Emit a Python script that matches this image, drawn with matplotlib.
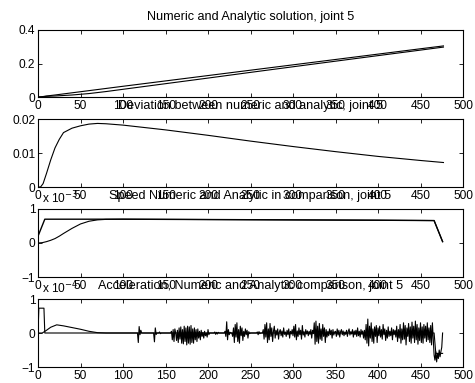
import numpy as np
import matplotlib
matplotlib.use("Agg")
import matplotlib.pyplot as plt

plt.rcParams["font.family"] = ["Liberation Sans", "DejaVu Sans"]
plt.rcParams["font.size"] = 8.6
plt.rcParams["axes.titlesize"] = 9.1

# --- position (panel 1) ---
pos_x = [0, 5, 10, 20, 40, 60, 80, 100, 150, 200, 250, 300, 350, 400, 450, 477]
pos_numeric = [0, 0.002, 0.006, 0.012, 0.025, 0.038, 0.051, 0.064, 0.096, 0.128,
               0.160, 0.192, 0.224, 0.256, 0.288, 0.305]
pos_analytic = [0, 0.0015, 0.004, 0.006, 0.012, 0.0205, 0.0325, 0.046, 0.0795, 0.113,
                0.147, 0.1805, 0.2138, 0.247, 0.280, 0.298]

# --- deviation (panel 2) ---
dev_x = [0, 3, 6, 10, 15, 20, 25, 30, 40, 50, 60, 70, 80, 100, 150, 200, 250, 300,
         350, 400, 450, 477]
dev_y = [0, 0, 0.001, 0.004, 0.008, 0.0115, 0.014, 0.016, 0.0173, 0.0180, 0.0185,
         0.0187, 0.0186, 0.0182, 0.0168, 0.0152, 0.0135, 0.0119, 0.0104, 0.0090,
         0.0078, 0.0072]

# --- speed, in units of 1e-3 (panel 3) ---
spd_num_x = [0, 8, 100, 200, 300, 400, 466, 476]
spd_num_y = [0.20, 0.70, 0.70, 0.69, 0.68, 0.67, 0.66, 0.04]
spd_ana_x = [0, 5, 10, 15, 20, 25, 30, 40, 50, 60, 70, 80, 100, 200, 300, 400, 466, 476]
spd_ana_y = [0, 0.01, 0.04, 0.08, 0.13, 0.20, 0.28, 0.43, 0.56, 0.64, 0.68, 0.695,
             0.70, 0.69, 0.68, 0.67, 0.66, 0.04]

# --- acceleration, in units of 1e-4 (panel 4) ---
acc_ana_x = [0, 5, 10, 15, 22, 30, 40, 50, 60, 70, 80, 466, 468, 476]
acc_ana_y = [0, 0, 0.08, 0.17, 0.24, 0.21, 0.16, 0.11, 0.05, 0.01, 0, 0, -0.6, -0.6]
acc_start = [0.0, 0.73, 0.73, 0.73, 0.73, 0.73, 0.73, 0.73, 0.0]   # samples 0..8
acc_bursts = [
    (118, [-0.28, 0.19, -0.05, 0.08]),
    (137, [-0.26, 0.15, -0.04]),
    (143, [0.03, -0.02]),
    (157, [0.05, -0.20, 0.10, -0.25, 0.12, 0, -0.22, 0.08, -0.28, 0.15, -0.18, 0.18,
           -0.30, 0.10, -0.32, 0.20, -0.25, 0.15, -0.35, 0.20, -0.30, 0.18, -0.33, 0.22,
           -0.28, 0.12, -0.30, 0.15, -0.20, 0.10, -0.25, 0.12, -0.15, 0.05, -0.20, 0.08,
           -0.10, 0.02, -0.15, 0.05, -0.08, 0, -0.12, 0.10, -0.05]),
    (208, [0.03, -0.04, 0.02, -0.03, 0.02]),
    (220, [0.05, -0.10, 0.33, -0.20, 0.10, -0.05, 0.02]),
    (229, [-0.10, 0.15, -0.28, 0.25, -0.12, 0.30, -0.25, 0.10, -0.30, 0.20, -0.08,
           0.15, -0.22, 0.05, -0.10, 0.12, -0.05, 0.08, -0.15, 0.04, -0.02]),
    (258, [0.03, -0.05, 0.04, -0.02]),
    (265, [0.10, -0.18, 0.25, -0.12, 0.30, -0.28, 0.12, -0.20, 0.28, -0.10, 0.15,
           -0.25, 0.05, 0.20, -0.15, 0.08, -0.06, 0.12, -0.18, 0.04, 0.10, -0.08,
           0.06, -0.12, 0.15, -0.04, 0.03, -0.10, 0.08, -0.05, 0.12, -0.15, 0.05,
           -0.03, 0.10, -0.08, 0.20, -0.12, 0.25, -0.20, 0.06, -0.10, 0.15, -0.05,
           0.08, -0.18, 0.22, -0.06, 0.04, -0.12, 0.10, -0.03, 0.06, -0.08, 0.05,
           -0.04, 0.10, -0.15, 0.08, -0.02, 0.30, -0.33, 0.35, -0.25, 0.20, -0.30,
           0.28, -0.18, 0.12, -0.22, 0.25, -0.10, 0.15, -0.28, 0.10, -0.12, 0.05,
           -0.08, 0.12, -0.05, 0.08, -0.15, 0.10, -0.06, 0.03]),
    (350, [0.05, -0.10, 0.12, -0.06, 0.08, -0.12, 0.04, 0.10, -0.05, 0.06, -0.08,
           0.03, -0.04, 0.08, -0.10, 0.05, 0.12, -0.06, 0.04, -0.03, 0.10, -0.12,
           0.06, -0.05, 0.08, -0.10, 0.15, -0.08, 0.05, -0.12, 0.10, -0.04, 0.06,
           -0.15, 0.08]),
    (385, [-0.20, 0.25, -0.30, 0.41, -0.38, 0.20, -0.15, 0.30, -0.25, 0.12, -0.30,
           0.18, -0.10, 0.22, -0.28, 0.15, -0.08, 0.20, -0.12, 0.10, -0.18, 0.25,
           -0.05, 0.12, -0.22, 0.08, -0.15, 0.18, -0.10, 0.05, -0.08, 0.15, -0.20,
           0.10, -0.05, 0.08, -0.12, 0.20, -0.25, 0.10, -0.15, 0.25, -0.30, 0.12,
           -0.20, 0.30, -0.18, 0.22, -0.35, 0.15, -0.10, 0.28, -0.25, 0.18, -0.30,
           0.32, -0.15, 0.20, -0.28, 0.35, -0.20, 0.25, -0.33, 0.15, -0.22, 0.30,
           -0.28, 0.18, -0.30, 0.25, -0.15, 0.20, -0.25, 0.30, -0.20, 0.15, -0.28,
           0.22, -0.35, 0.30, -0.20]),
    (466, [-0.65, -0.80, -0.55, -0.85, -0.60, -0.75, -0.50, -0.70, -0.55, -0.42]),
]

t = np.arange(477)
acc_num = np.zeros(477)
acc_num[:len(acc_start)] = acc_start
for start, vals in acc_bursts:
    acc_num[start:start + len(vals)] = vals

fig = plt.figure(figsize=(4.75, 3.83), dpi=100)
W, H = 475.0, 383.0
left, right = 38, 463
tops = [30, 119, 209, 299]
bots = [97, 187, 277, 367]
axes = [fig.add_axes([left / W, 1 - b / H, (right - left) / W, (b - tp) / H])
        for tp, b in zip(tops, bots)]

lw = 0.8
ax = axes[0]
ax.plot(pos_x, pos_numeric, color="k", lw=lw)
ax.plot(pos_x, pos_analytic, color="k", lw=lw)
ax.set_ylim(0, 0.4)
ax.set_yticks([0, 0.2, 0.4])
ax.set_yticklabels(["0", "0.2", "0.4"])
ax.set_title("Numeric and Analytic solution, joint 5", pad=7.5)

ax = axes[1]
ax.plot(dev_x, dev_y, color="k", lw=lw)
ax.set_ylim(0, 0.02)
ax.set_yticks([0, 0.01, 0.02])
ax.set_yticklabels(["0", "0.01", "0.02"])
ax.set_title("Deviation between numeric and analytic, joint 5", pad=7.5)

ax = axes[2]
ax.plot(spd_ana_x, spd_ana_y, color="k", lw=lw)
ax.plot(spd_num_x, spd_num_y, color="k", lw=1.0)
ax.set_ylim(-1, 1)
ax.set_yticks([-1, 0, 1])
ax.set_yticklabels(["\u22121", "0", "1"])
ax.set_title("Speed Numeric and Analytic in comparison, joint 5", pad=7.5)
ax.text(0.01, 1.04, "x 10$^{-3}$", transform=ax.transAxes, ha="left", va="bottom")

ax = axes[3]
ax.plot(acc_ana_x, acc_ana_y, color="k", lw=lw)
ax.plot(t, acc_num, color="k", lw=lw)
ax.set_ylim(-1, 1)
ax.set_yticks([-1, 0, 1])
ax.set_yticklabels(["\u22121", "0", "1"])
ax.set_title("Acceleration, Numeric and Analytic comparison, joint 5", pad=7.5)
ax.text(0.01, 1.04, "x 10$^{-4}$", transform=ax.transAxes, ha="left", va="bottom")

for ax in axes:
    ax.set_xlim(0, 500)
    ax.set_xticks(np.arange(0, 501, 50))
    ax.tick_params(direction="in", top=True, right=True, length=3, width=0.6, pad=2)
    for s in ax.spines.values():
        s.set_linewidth(0.8)

fig.savefig("out.png", dpi=100)
